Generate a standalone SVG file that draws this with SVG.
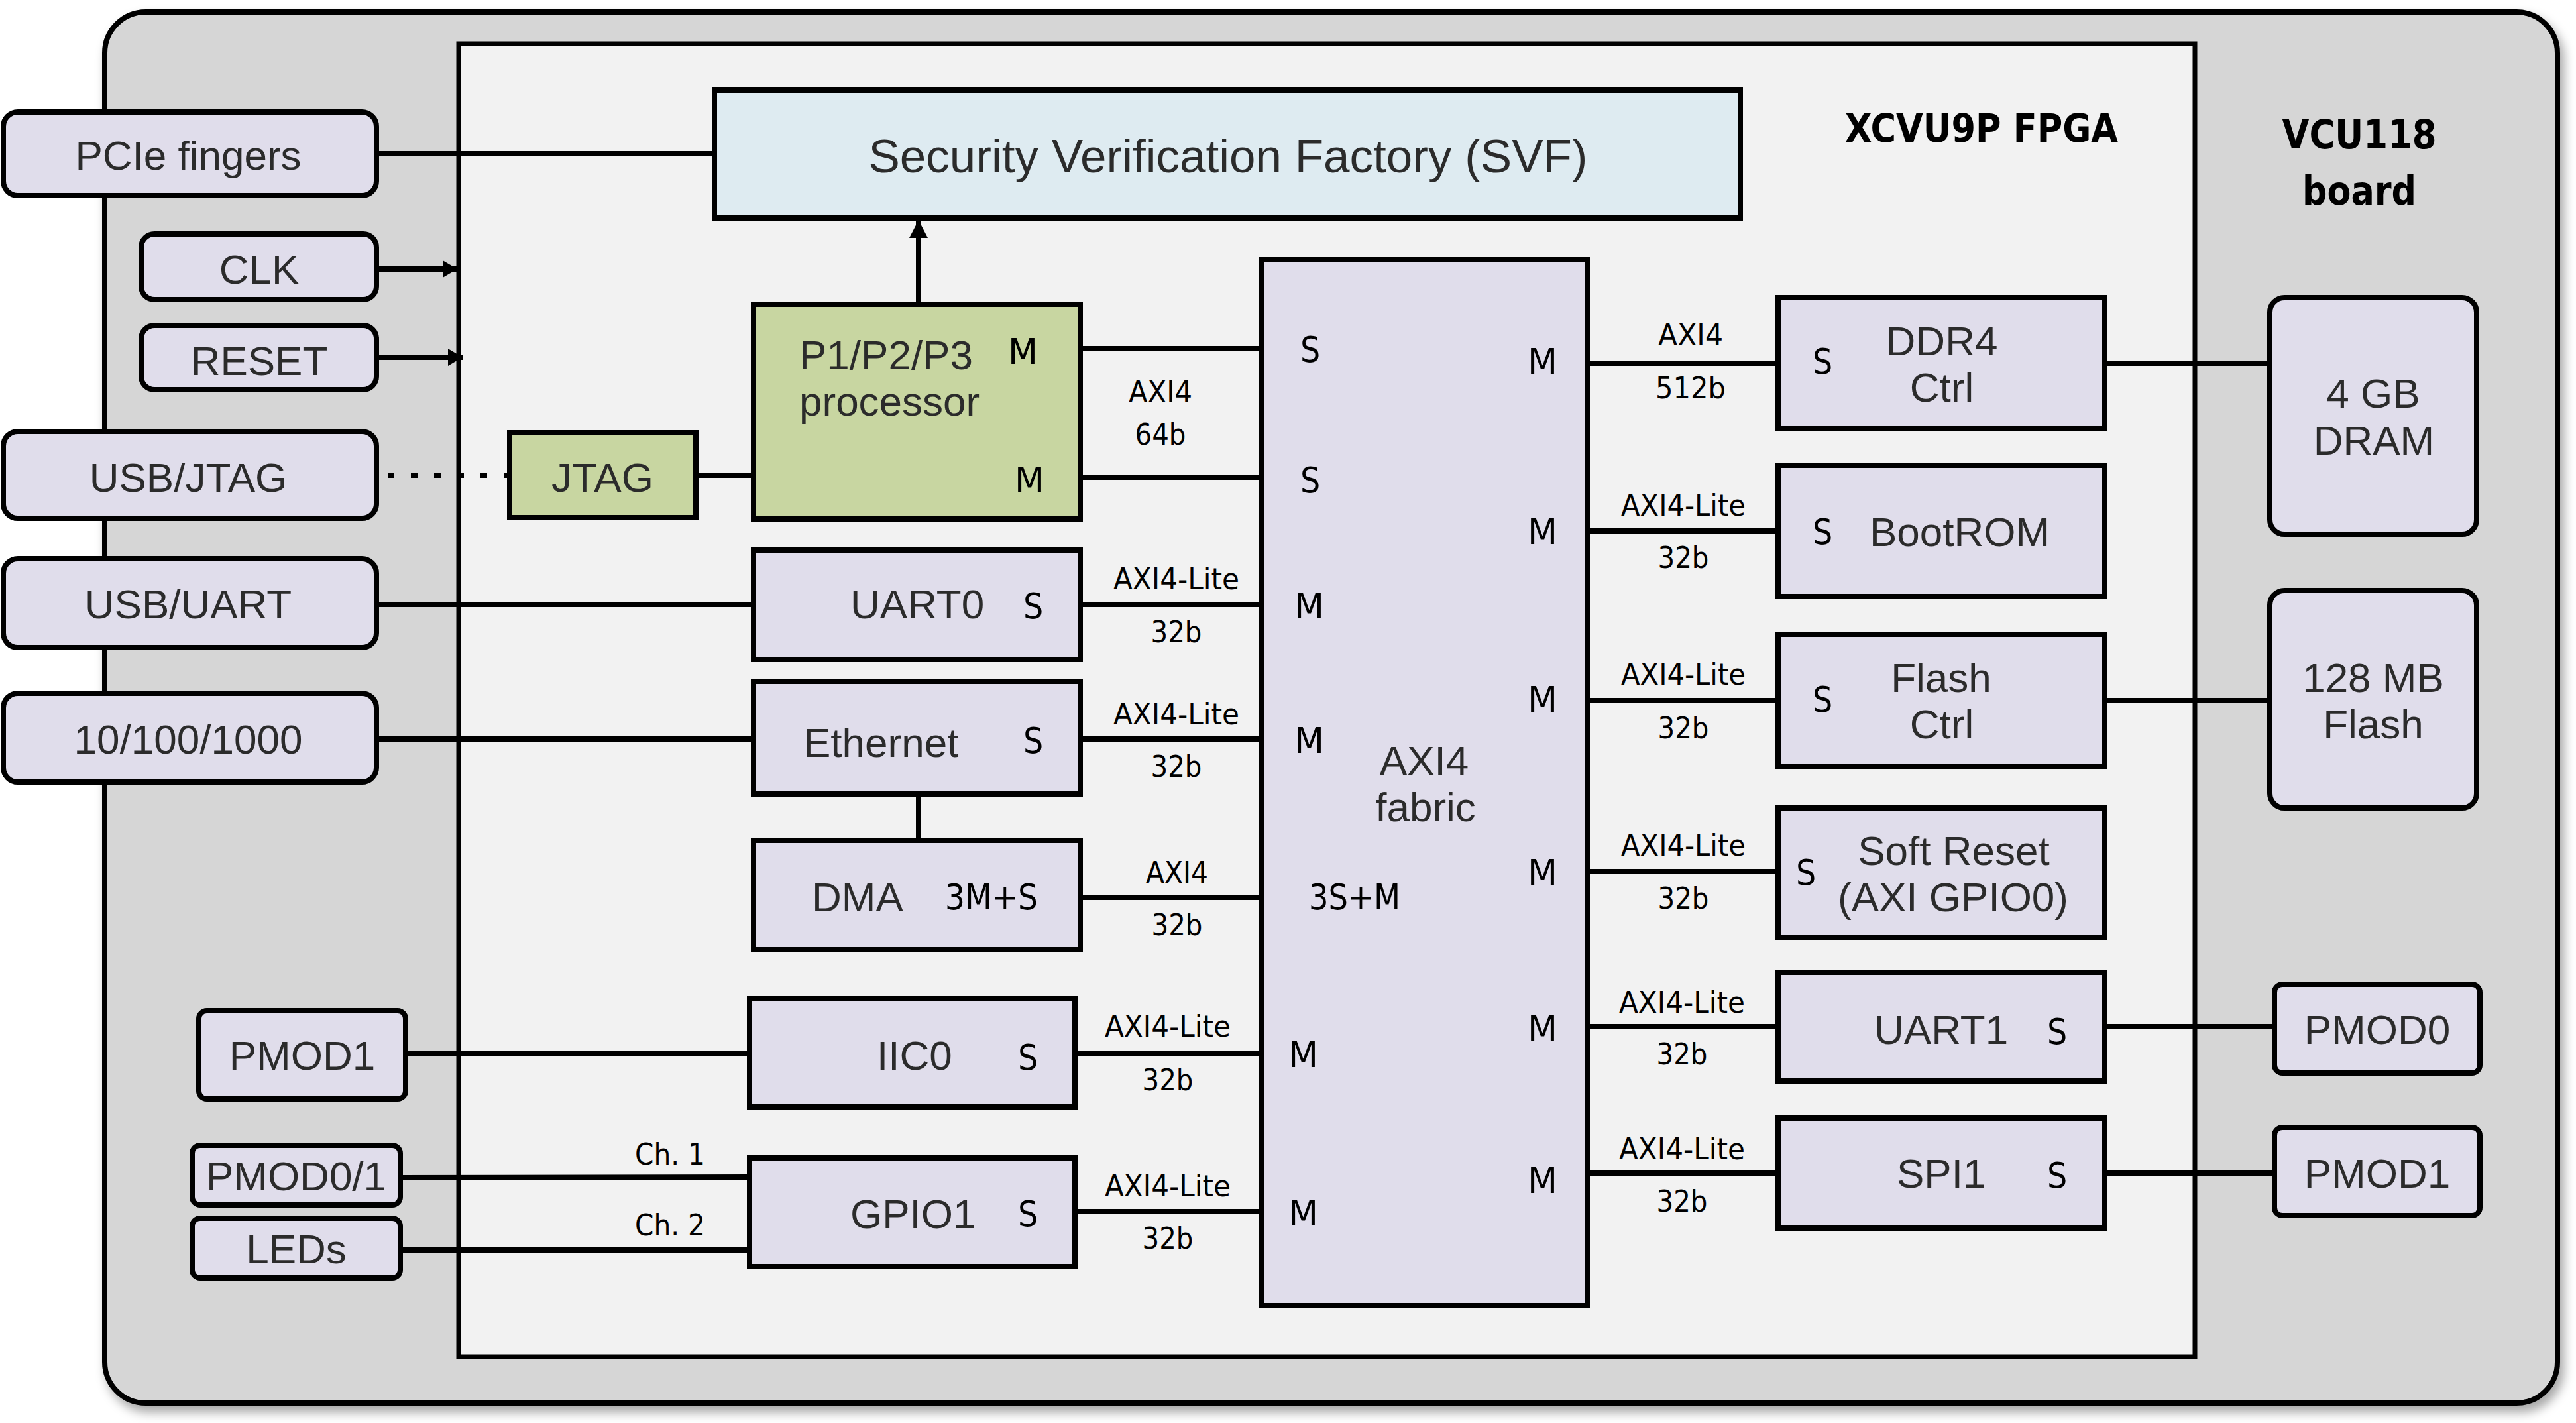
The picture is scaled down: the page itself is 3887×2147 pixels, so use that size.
<svg xmlns="http://www.w3.org/2000/svg" width="3887" height="2147" viewBox="0 0 3887 2147">
<style>
.box{fill:#e0ddeb;stroke:#000;stroke-width:8}
.grn{fill:#c8d6a1;stroke:#000;stroke-width:8}
.svf{fill:#deebf1;stroke:#000;stroke-width:8}
.t{font-family:"Liberation Sans",Arial,sans-serif;font-size:62px;fill:#2b2b2b}
.big{font-size:71px}
.c{text-anchor:middle}
.lb{font-family:"Liberation Sans Narrow","DejaVu Sans Condensed",sans-serif;font-size:45px;fill:#000}
.ms{font-family:"Liberation Sans Narrow","DejaVu Sans Condensed",sans-serif;font-size:53px;fill:#000}
.ttl{font-family:"Liberation Sans Narrow","DejaVu Sans Condensed",sans-serif;font-size:58px;font-weight:bold;fill:#000}
.w{stroke:#000;stroke-width:8;fill:none}
</style>
<defs>
<filter id="sh" x="-5%" y="-5%" width="110%" height="110%">
<feDropShadow dx="6" dy="10" stdDeviation="8" flood-color="#000" flood-opacity="0.35"/>
</filter>
<marker id="ah" markerWidth="22" markerHeight="26" refX="22" refY="13" orient="auto" markerUnits="userSpaceOnUse">
<path d="M0,0 L22,13 L0,26 Z" fill="#000"/>
</marker>
<marker id="ah2" markerWidth="27" markerHeight="28" refX="27" refY="14" orient="auto" markerUnits="userSpaceOnUse">
<path d="M0,0 L27,14 L0,28 Z" fill="#000"/>
</marker>
</defs>
<rect width="3887" height="2147" fill="#fff"/>

<g id="board">
<rect x="158" y="18" width="3701" height="2099" rx="62" fill="#d6d6d6" stroke="#000" stroke-width="8" filter="url(#sh)"/>
<text class="ttl c" x="3560" y="224" textLength="233" lengthAdjust="spacingAndGlyphs" style="font-size:60px">VCU118</text>
<text class="ttl c" x="3560" y="309" textLength="172" lengthAdjust="spacingAndGlyphs" style="font-size:60px">board</text>
</g>
<g id="fpga">
<rect x="692" y="66" width="2620" height="1981" fill="#f2f2f2" stroke="#000" stroke-width="7"/>
<text class="ttl c" x="2990" y="214" textLength="412" lengthAdjust="spacingAndGlyphs">XCVU9P FPGA</text>
</g>

<g id="connectors">
<line class="w" x1="568" y1="232" x2="1078" y2="232"/>
<line class="w" x1="568" y1="406" x2="690" y2="406" marker-end="url(#ah)"/>
<line class="w" x1="568" y1="539" x2="698" y2="539" marker-end="url(#ah)"/>
<line class="w" x1="585" y1="717" x2="769" y2="717" stroke-dasharray="10 25"/>
<line class="w" x1="1050" y1="717" x2="1137" y2="717"/>
<line class="w" x1="1386" y1="459" x2="1386" y2="332" marker-end="url(#ah2)"/>
<line class="w" x1="1630" y1="526" x2="1904" y2="526"/>
<line class="w" x1="1630" y1="720" x2="1904" y2="720"/>
<line class="w" x1="568" y1="912" x2="1137" y2="912"/>
<line class="w" x1="1630" y1="912" x2="1904" y2="912"/>
<line class="w" x1="568" y1="1115" x2="1137" y2="1115"/>
<line class="w" x1="1630" y1="1115" x2="1904" y2="1115"/>
<line class="w" x1="1386" y1="1198" x2="1386" y2="1268"/>
<line class="w" x1="1630" y1="1354" x2="1904" y2="1354"/>
<line class="w" x1="612" y1="1589" x2="1131" y2="1589"/>
<line class="w" x1="1622" y1="1589" x2="1904" y2="1589"/>
<line class="w" x1="604" y1="1777" x2="1131" y2="1776"/>
<line class="w" x1="604" y1="1886" x2="1131" y2="1886"/>
<line class="w" x1="1622" y1="1828" x2="1904" y2="1828"/>
<line class="w" x1="2395" y1="548" x2="2683" y2="548"/>
<line class="w" x1="3176" y1="548" x2="3425" y2="548"/>
<line class="w" x1="2395" y1="801" x2="2683" y2="801"/>
<line class="w" x1="2395" y1="1057" x2="2683" y2="1057"/>
<line class="w" x1="3176" y1="1057" x2="3425" y2="1057"/>
<line class="w" x1="2395" y1="1315" x2="2683" y2="1315"/>
<line class="w" x1="2395" y1="1549" x2="2683" y2="1549"/>
<line class="w" x1="3176" y1="1549" x2="3432" y2="1549"/>
<line class="w" x1="2395" y1="1770" x2="2683" y2="1770"/>
<line class="w" x1="3176" y1="1770" x2="3432" y2="1770"/>
<text class="lb c" x="1751" y="607" textLength="96" lengthAdjust="spacingAndGlyphs">AXI4</text>
<text class="lb c" x="1751" y="671" textLength="77" lengthAdjust="spacingAndGlyphs">64b</text>
<text class="lb c" x="1775" y="889" textLength="190" lengthAdjust="spacingAndGlyphs">AXI4-Lite</text>
<text class="lb c" x="1775" y="969" textLength="77" lengthAdjust="spacingAndGlyphs">32b</text>
<text class="lb c" x="1775" y="1093" textLength="190" lengthAdjust="spacingAndGlyphs">AXI4-Lite</text>
<text class="lb c" x="1775" y="1172" textLength="77" lengthAdjust="spacingAndGlyphs">32b</text>
<text class="lb c" x="1776" y="1332" textLength="94" lengthAdjust="spacingAndGlyphs">AXI4</text>
<text class="lb c" x="1776" y="1411" textLength="77" lengthAdjust="spacingAndGlyphs">32b</text>
<text class="lb c" x="1762" y="1564" textLength="190" lengthAdjust="spacingAndGlyphs">AXI4-Lite</text>
<text class="lb c" x="1762" y="1645" textLength="77" lengthAdjust="spacingAndGlyphs">32b</text>
<text class="lb c" x="1762" y="1805" textLength="190" lengthAdjust="spacingAndGlyphs">AXI4-Lite</text>
<text class="lb c" x="1762" y="1884" textLength="77" lengthAdjust="spacingAndGlyphs">32b</text>
<text class="lb c" x="1011" y="1757" textLength="106" lengthAdjust="spacingAndGlyphs">Ch. 1</text>
<text class="lb c" x="1011" y="1864" textLength="106" lengthAdjust="spacingAndGlyphs">Ch. 2</text>
<text class="lb c" x="2551" y="521" textLength="98" lengthAdjust="spacingAndGlyphs">AXI4</text>
<text class="lb c" x="2551" y="601" textLength="106" lengthAdjust="spacingAndGlyphs">512b</text>
<text class="lb c" x="2540" y="778" textLength="188" lengthAdjust="spacingAndGlyphs">AXI4-Lite</text>
<text class="lb c" x="2540" y="857" textLength="77" lengthAdjust="spacingAndGlyphs">32b</text>
<text class="lb c" x="2540" y="1033" textLength="188" lengthAdjust="spacingAndGlyphs">AXI4-Lite</text>
<text class="lb c" x="2540" y="1114" textLength="77" lengthAdjust="spacingAndGlyphs">32b</text>
<text class="lb c" x="2540" y="1291" textLength="188" lengthAdjust="spacingAndGlyphs">AXI4-Lite</text>
<text class="lb c" x="2540" y="1371" textLength="77" lengthAdjust="spacingAndGlyphs">32b</text>
<text class="lb c" x="2538" y="1528" textLength="190" lengthAdjust="spacingAndGlyphs">AXI4-Lite</text>
<text class="lb c" x="2538" y="1606" textLength="77" lengthAdjust="spacingAndGlyphs">32b</text>
<text class="lb c" x="2538" y="1749" textLength="190" lengthAdjust="spacingAndGlyphs">AXI4-Lite</text>
<text class="lb c" x="2538" y="1828" textLength="77" lengthAdjust="spacingAndGlyphs">32b</text>
</g>

<g id="pcie"><rect class="box" x="5" y="169" width="563" height="126" rx="22"/><text class="t c" x="284" y="256">PCIe fingers</text></g>
<g id="clk"><rect class="box" x="213" y="353" width="355" height="99" rx="20"/><text class="t c" x="391" y="428">CLK</text></g>
<g id="reset"><rect class="box" x="213" y="491" width="355" height="97" rx="20"/><text class="t c" x="391" y="566">RESET</text></g>
<g id="usbjtag"><rect class="box" x="5" y="651" width="563" height="131" rx="22"/><text class="t c" x="284" y="742">USB/JTAG</text></g>
<g id="usbuart"><rect class="box" x="5" y="843" width="563" height="134" rx="22"/><text class="t c" x="284" y="933">USB/UART</text></g>
<g id="eth-phy"><rect class="box" x="5" y="1046" width="563" height="134" rx="22"/><text class="t c" x="284" y="1137">10/100/1000</text></g>
<g id="pmod1-left"><rect class="box" x="300" y="1525" width="312" height="133" rx="12"/><text class="t c" x="456" y="1614">PMOD1</text></g>
<g id="pmod01"><rect class="box" x="290" y="1728" width="314" height="90" rx="12"/><text class="t c" x="447" y="1796">PMOD0/1</text></g>
<g id="leds"><rect class="box" x="290" y="1838" width="314" height="90" rx="12"/><text class="t c" x="447" y="1906">LEDs</text></g>

<g id="svf"><rect class="svf" x="1078" y="136" width="1548" height="193"/><text class="t big c" x="1853" y="260">Security Verification Factory (SVF)</text></g>
<g id="jtag"><rect class="grn" x="769" y="653" width="281" height="128"/><text class="t c" x="909" y="742">JTAG</text></g>
<g id="processor"><rect class="grn" x="1137" y="459" width="493" height="324"/>
<text class="t" x="1206" y="557">P1/P2/P3</text><text class="t" x="1206" y="627">processor</text>
<text class="ms" x="1521" y="549" textLength="45" lengthAdjust="spacingAndGlyphs">M</text>
<text class="ms" x="1531" y="743" textLength="45" lengthAdjust="spacingAndGlyphs">M</text></g>
<g id="uart0"><rect class="box" x="1137" y="830" width="493" height="165"/><text class="t" x="1283" y="933">UART0</text><text class="ms" x="1544" y="933">S</text></g>
<g id="ethernet"><rect class="box" x="1137" y="1028" width="493" height="170"/><text class="t" x="1212" y="1142">Ethernet</text><text class="ms" x="1544" y="1136">S</text></g>
<g id="dma"><rect class="box" x="1137" y="1268" width="493" height="165"/><text class="t" x="1225" y="1375">DMA</text><text class="ms" x="1426" y="1372" textLength="140" lengthAdjust="spacingAndGlyphs">3M+S</text></g>
<g id="iic0"><rect class="box" x="1131" y="1507" width="491" height="163"/><text class="t" x="1323" y="1614">IIC0</text><text class="ms" x="1536" y="1614">S</text></g>
<g id="gpio1"><rect class="box" x="1131" y="1747" width="491" height="164"/><text class="t" x="1283" y="1853">GPIO1</text><text class="ms" x="1536" y="1850">S</text></g>

<g id="fabric"><rect class="box" x="1904" y="392" width="491" height="1578"/>
<text class="t c" x="2149" y="1169">AXI4</text><text class="t c" x="2151" y="1239">fabric</text>
<text class="ms" x="1962" y="546">S</text><text class="ms" x="1962" y="743">S</text>
<text class="ms" x="1953" y="933" textLength="45" lengthAdjust="spacingAndGlyphs">M</text>
<text class="ms" x="1953" y="1136" textLength="45" lengthAdjust="spacingAndGlyphs">M</text>
<text class="ms" x="1975" y="1372" textLength="138" lengthAdjust="spacingAndGlyphs">3S+M</text>
<text class="ms" x="1944" y="1610" textLength="45" lengthAdjust="spacingAndGlyphs">M</text>
<text class="ms" x="1944" y="1849" textLength="45" lengthAdjust="spacingAndGlyphs">M</text>
<text class="ms" x="2305" y="564" textLength="45" lengthAdjust="spacingAndGlyphs">M</text>
<text class="ms" x="2305" y="821" textLength="45" lengthAdjust="spacingAndGlyphs">M</text>
<text class="ms" x="2305" y="1074" textLength="45" lengthAdjust="spacingAndGlyphs">M</text>
<text class="ms" x="2305" y="1335" textLength="45" lengthAdjust="spacingAndGlyphs">M</text>
<text class="ms" x="2305" y="1571" textLength="45" lengthAdjust="spacingAndGlyphs">M</text>
<text class="ms" x="2305" y="1800" textLength="45" lengthAdjust="spacingAndGlyphs">M</text></g>

<g id="ddr4"><rect class="box" x="2683" y="449" width="493" height="198"/><text class="ms" x="2735" y="564">S</text><text class="t c" x="2930" y="536">DDR4</text><text class="t c" x="2930" y="606">Ctrl</text></g>
<g id="bootrom"><rect class="box" x="2683" y="702" width="493" height="198"/><text class="ms" x="2735" y="821">S</text><text class="t" x="2821" y="824">BootROM</text></g>
<g id="flashctrl"><rect class="box" x="2683" y="957" width="493" height="200"/><text class="ms" x="2735" y="1074">S</text><text class="t c" x="2929" y="1044">Flash</text><text class="t c" x="2930" y="1114">Ctrl</text></g>
<g id="softreset"><rect class="box" x="2683" y="1219" width="493" height="195"/><text class="ms" x="2710" y="1335">S</text><text class="t c" x="2948" y="1305">Soft Reset</text><text class="t c" x="2947" y="1375">(AXI GPIO0)</text></g>
<g id="uart1"><rect class="box" x="2683" y="1467" width="493" height="164"/><text class="t" x="2828" y="1575">UART1</text><text class="ms" x="3089" y="1575">S</text></g>
<g id="spi1"><rect class="box" x="2683" y="1687" width="493" height="166"/><text class="t" x="2862" y="1792">SPI1</text><text class="ms" x="3089" y="1792">S</text></g>

<g id="dram"><rect class="box" x="3425" y="449" width="312" height="357" rx="22"/><text class="t c" x="3581" y="615">4 GB</text><text class="t c" x="3582" y="686">DRAM</text></g>
<g id="flash"><rect class="box" x="3425" y="891" width="312" height="328" rx="22"/><text class="t c" x="3581" y="1044">128 MB</text><text class="t c" x="3581" y="1114">Flash</text></g>
<g id="pmod0-right"><rect class="box" x="3432" y="1485" width="310" height="134" rx="12"/><text class="t c" x="3587" y="1575">PMOD0</text></g>
<g id="pmod1-right"><rect class="box" x="3432" y="1701" width="310" height="133" rx="12"/><text class="t c" x="3587" y="1792">PMOD1</text></g>
</svg>
